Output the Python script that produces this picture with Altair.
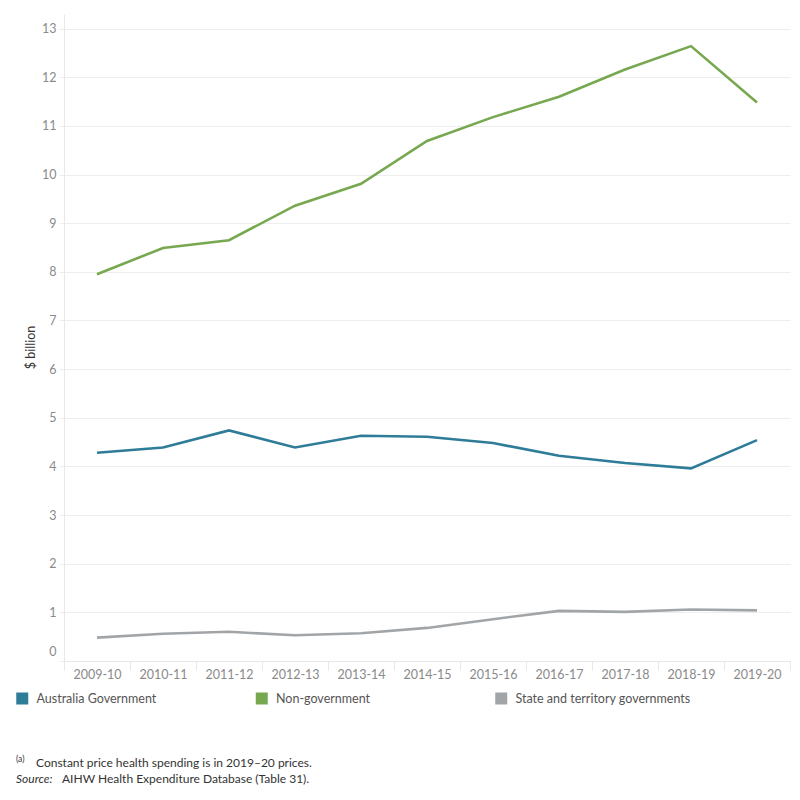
import altair as alt
import pandas as pd

# Financial years on the x axis
years = ["2009-10", "2010-11", "2011-12", "2012-13", "2013-14", "2014-15",
         "2015-16", "2016-17", "2017-18", "2018-19", "2019-20"]

# Constant price health spending by source of funds ($ billion)
australian_gov = [4.28, 4.39, 4.74, 4.39, 4.63, 4.61, 4.48, 4.22, 4.07, 3.96, 4.54]
non_gov = [7.95, 8.49, 8.65, 9.36, 9.81, 10.69, 11.18, 11.60, 12.16, 12.64, 11.48]
state_territory = [0.48, 0.56, 0.60, 0.53, 0.57, 0.68, 0.86, 1.03, 1.01, 1.06, 1.04]

series_names = ["Australia Government", "Non-government", "State and territory governments"]
series_colors = ["#2e7c98", "#77a850", "#a2a5a7"]

note_a = "Constant price health spending is in 2019\u201320 prices."
source_label = "Source:"
source_text = "AIHW Health Expenditure Database (Table 31)."

rows = []
for name, values in zip(series_names, [australian_gov, non_gov, state_territory]):
    for yr, v in zip(years, values):
        rows.append({"year": yr, "series": name, "value": v})
df = pd.DataFrame(rows)

FONT = "Lato"
W, H = 726, 647

lines = alt.Chart(df).mark_line(strokeWidth=2.6).encode(
    x=alt.X(
        "year:O",
        sort=years,
        scale=alt.Scale(type="band", paddingInner=0, paddingOuter=0),
        axis=alt.Axis(
            title=None, labelAngle=0, labelFont=FONT, labelFontSize=12.5,
            labelColor="#8a8a8a", grid=False, tickBand="extent",
            tickSize=9, tickColor="#e8e8e8", domainColor="#e8e8e8",
            labelPadding=-2,
        ),
    ),
    y=alt.Y(
        "value:Q",
        scale=alt.Scale(domain=[0, 13.3], nice=False, zero=True),
        axis=alt.Axis(
            title="$ billion", values=list(range(0, 14)), labelFont=FONT,
            labelFontSize=12.5, labelColor="#8a8a8a", gridColor="#eeeeee",
            tickSize=5, tickColor="#eeeeee", domainColor="#e8e8e8",
            labelPadding=3, labelFlush=True, labelFlushOffset=-3,
            titleFont=FONT, titleFontSize=12.5, titleFontWeight="normal",
            titleColor="#333333", titleX=-34, titleY=333,
            titleAlign="center", titleBaseline="middle",
        ),
    ),
    color=alt.Color(
        "series:N",
        scale=alt.Scale(domain=series_names, range=series_colors),
        legend=alt.Legend(
            title=None, orient="none", legendX=-48, legendY=678,
            direction="horizontal", columns=3, gridAlign="all",
            columnPadding=26.5, symbolType="square", symbolSize=0.25,
            symbolStrokeWidth=11.5, labelOffset=8, labelFont=FONT,
            labelFontSize=12.5, labelColor="#555555", labelLimit=400,
        ),
    ),
)

note_marker = alt.Chart(pd.DataFrame({"t": ["(a)"]})).mark_text(
    align="left", baseline="middle", font=FONT, fontSize=8.5, color="#333333"
).encode(text="t:N", x=alt.value(-48), y=alt.value(745))

note_line = alt.Chart(pd.DataFrame({"t": [note_a]})).mark_text(
    align="left", baseline="middle", font=FONT, fontSize=12, color="#333333"
).encode(text="t:N", x=alt.value(-28), y=alt.value(749))

source_head = alt.Chart(pd.DataFrame({"t": [source_label]})).mark_text(
    align="left", baseline="middle", font=FONT, fontSize=12, fontStyle="italic",
    color="#333333"
).encode(text="t:N", x=alt.value(-48), y=alt.value(765))

source_body = alt.Chart(pd.DataFrame({"t": [source_text]})).mark_text(
    align="left", baseline="middle", font=FONT, fontSize=12, color="#333333"
).encode(text="t:N", x=alt.value(-2), y=alt.value(765))

chart = alt.layer(lines, note_marker, note_line, source_head, source_body).properties(
    width=W,
    height=H,
    autosize=alt.AutoSizeParams(type="none"),
    padding={"left": 64, "top": 14, "right": 10, "bottom": 139},
    background="white",
).configure_view(stroke=None)

chart.save("out.html", embed_options={"renderer": "svg", "actions": False})
